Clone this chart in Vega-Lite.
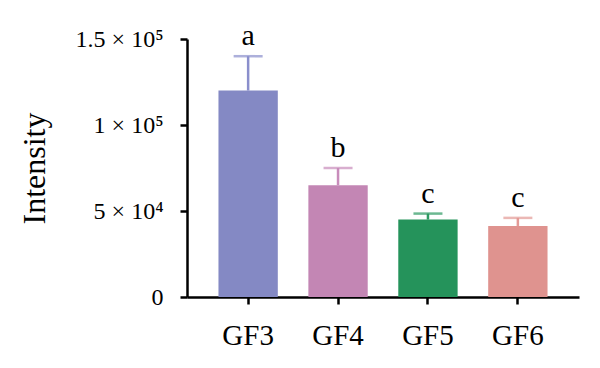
{
  "$schema": "https://vega.github.io/schema/vega-lite/v6.json",
  "autosize": "none",
  "width": 392,
  "height": 258,
  "padding": {"left": 187, "top": 39, "right": 21, "bottom": 71},
  "background": "white",
  "data": {
    "values": [
      {"group": "GF3", "mean": 120000, "upper": 140000, "letter": "a", "bar": "#8489C4", "err": "#8A8FCC"},
      {"group": "GF4", "mean": 65000, "upper": 75000, "letter": "b", "bar": "#C386B4", "err": "#C88CBB"},
      {"group": "GF5", "mean": 45000, "upper": 48500, "letter": "c", "bar": "#25935B", "err": "#2E9A62"},
      {"group": "GF6", "mean": 41300, "upper": 46000, "letter": "c", "bar": "#DF938F", "err": "#E39A96"}
    ]
  },
  "config": {
    "view": {"stroke": null},
    "axis": {
      "labelFont": "Liberation Serif",
      "titleFont": "Liberation Serif",
      "labelColor": "#000",
      "titleColor": "#000",
      "domainColor": "#000",
      "tickColor": "#000",
      "domainWidth": 2.5,
      "tickWidth": 2.5,
      "tickSize": 7,
      "grid": false,
      "titleFontWeight": "normal"
    },
    "axisY": {"labelFontSize": 24, "titleFontSize": 32, "labelPadding": 17},
    "axisX": {"labelFontSize": 29, "labelPadding": 17}
  },
  "encoding": {
    "x": {
      "field": "group",
      "type": "nominal",
      "sort": null,
      "scale": {"paddingInner": 0.34, "paddingOuter": 0.35},
      "axis": {"title": null, "labelAngle": 0}
    }
  },
  "layer": [
    {
      "mark": {"type": "bar"},
      "encoding": {
        "y": {
          "field": "mean",
          "type": "quantitative",
          "scale": {"domain": [0, 150000], "nice": false},
          "axis": {
            "title": "Intensity",
            "titleX": -143,
            "titleY": 129,
            "titleBaseline": "alphabetic",
            "titleAngle": -90,
            "titleAlign": "center",
            "values": [0, 50000, 100000, 150000],
            "labelExpr": "datum.value == 0 ? '0' : datum.value == 50000 ? '5 × 10⁴' : datum.value == 100000 ? '1 × 10⁵' : '1.5 × 10⁵'"
          }
        },
        "color": {"field": "bar", "type": "nominal", "scale": null}
      }
    },
    {
      "mark": {"type": "rule", "strokeWidth": 2.5},
      "encoding": {
        "y": {"field": "mean", "type": "quantitative"},
        "y2": {"field": "upper"},
        "color": {"field": "err", "type": "nominal", "scale": null}
      }
    },
    {
      "mark": {"type": "tick", "thickness": 2.5, "size": 29, "orient": "horizontal"},
      "encoding": {
        "y": {"field": "upper", "type": "quantitative"},
        "color": {"field": "err", "type": "nominal", "scale": null}
      }
    },
    {
      "mark": {"type": "text", "font": "Liberation Serif", "fontSize": 30, "baseline": "alphabetic", "dy": -11, "color": "#000"},
      "encoding": {
        "y": {"field": "upper", "type": "quantitative"},
        "text": {"field": "letter"}
      }
    }
  ]
}
